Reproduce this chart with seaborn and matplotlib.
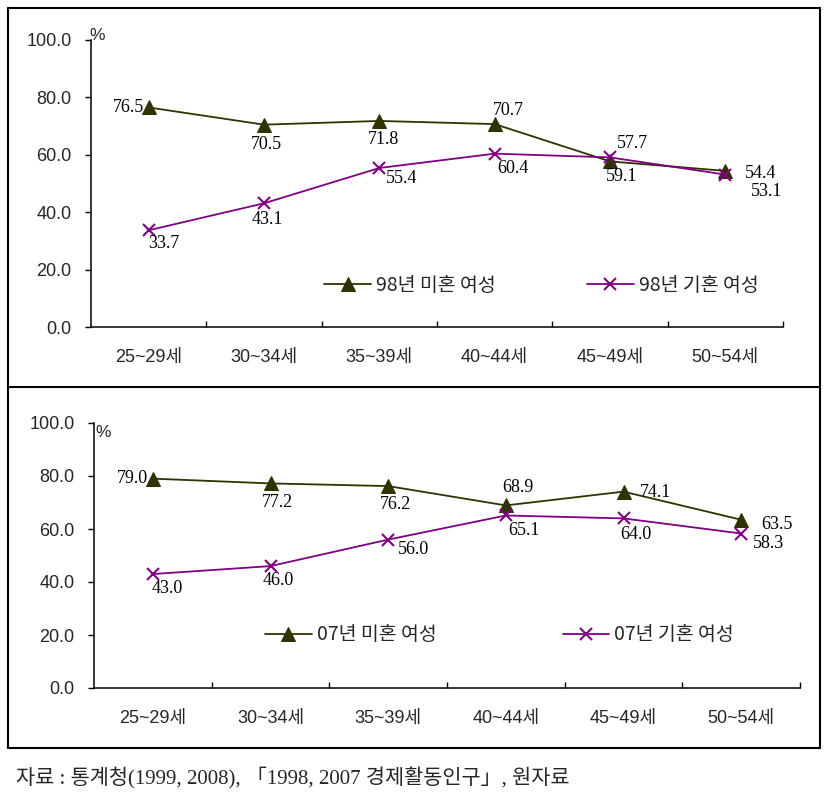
import pandas as pd
import matplotlib
matplotlib.use('Agg')
import matplotlib.pyplot as plt
from matplotlib.lines import Line2D
import seaborn as sns

# age groups on the x axis
ages = ['25~29세', '30~34세', '35~39세', '40~44세', '45~49세', '50~54세']

# participation rate (%), 1998
single_98 = [76.5, 70.5, 71.8, 70.7, 57.7, 54.4]
married_98 = [33.7, 43.1, 55.4, 60.4, 59.1, 53.1]

# participation rate (%), 2007
single_07 = [79.0, 77.2, 76.2, 68.9, 74.1, 63.5]
married_07 = [43.0, 46.0, 56.0, 65.1, 64.0, 58.3]

yticks = [0, 20, 40, 60, 80, 100]
source = '자료 : 통계청(1999, 2008), 「1998, 2007 경제활동인구」, 원자료'

# label offsets in pixels (dx, dy), picked by eye so labels don't collide
off_s98 = [(-5, 0), (2, -20), (4, -19), (14, 14), (22, 18), (35, -3)]
off_m98 = [(15, -13), (3, -16), (22, -10), (18, -15), (12, -19), (41, -17)]
off_s07 = [(-5, 0), (7, -19), (7, -18), (12, 18), (32, -1), (36, -5)]
off_m07 = [(14, -14), (8, -14), (25, -10), (18, -15), (12, -16), (27, -10)]

OLIVE = '#2e3300'
PURPLE = '#800080'

sns.set_style('white')
plt.rcParams['font.family'] = ['Liberation Sans', 'Noto Sans CJK KR']

fig = plt.figure(figsize=(8.27, 7.97), dpi=100)
W, H = 827, 797


def px_box(x0, y0, x1, y1):
    # pixel box (top-left origin) -> figure fraction rect
    return [x0 / W, 1 - y1 / H, (x1 - x0) / W, (y1 - y0) / H]


def draw_panel(ax, single, married, lab_s, lab_m, offs_s, offs_m, leg_anchor, colspace, pct_off):
    df = pd.DataFrame({'age': ages, 'single': single, 'married': married})
    sns.lineplot(data=df, x='age', y='single', ax=ax, color=OLIVE, lw=1.3,
                 marker='^', markersize=10, markeredgecolor=OLIVE, label=lab_s, sort=False)
    sns.lineplot(data=df, x='age', y='married', ax=ax, color=PURPLE, lw=1.3,
                 marker='x', markersize=9, markeredgewidth=1.5, markeredgecolor=PURPLE,
                 label=lab_m, sort=False)

    for i, v in enumerate(single):
        dx, dy = offs_s[i]
        ha = 'right' if dx < 0 else 'center'
        ax.annotate(f'{v:.1f}', (i, v), xytext=(dx, dy), textcoords='offset pixels',
                    ha=ha, va='center', fontsize=13, family='Liberation Serif', color='black')
    for i, v in enumerate(married):
        dx, dy = offs_m[i]
        ax.annotate(f'{v:.1f}', (i, v), xytext=(dx, dy), textcoords='offset pixels',
                    ha='center', va='center', fontsize=13, family='Liberation Serif', color='black')

    ax.set_xlim(-0.5, 5.5)
    ax.set_ylim(0, 100)
    ax.set_yticks(yticks)
    ax.set_yticklabels([f'{t:.1f}' for t in yticks])
    ax.set_xlabel('')
    ax.set_ylabel('')
    ax.set_xticks(range(len(ages)))
    ax.set_xticks([i + 0.5 for i in range(len(ages))], minor=True)
    ax.tick_params(axis='x', which='major', length=0, pad=16, labelsize=13)
    ax.tick_params(axis='x', which='minor', direction='in', length=4.5, width=1, color='black', bottom=True)
    ax.tick_params(axis='y', which='major', direction='out', length=4, width=1, color='black',
                   pad=10, labelsize=13, left=True)
    sns.despine(ax=ax)
    for s in ('left', 'bottom'):
        ax.spines[s].set_color('black')
        ax.spines[s].set_linewidth(1.1)

    ax.annotate('%', (0, 1), xytext=pct_off, textcoords='offset pixels',
                xycoords='axes fraction', ha='left', va='center', fontsize=12.5)

    ax.legend(loc='center left', bbox_to_anchor=leg_anchor, ncol=2, frameon=False,
              borderaxespad=0, borderpad=0, handlelength=2.4, handletextpad=0.26,
              columnspacing=colspace, prop={'family': 'Noto Sans CJK KR', 'size': 14})


ax1 = fig.add_axes(px_box(91, 40, 783, 327))
ax2 = fig.add_axes(px_box(94, 423, 800, 688))

draw_panel(ax1, single_98, married_98, '98년 미혼 여성', '98년 기혼 여성',
           off_s98, off_m98, (0.337, 0.146), 4.7, (-2, 4))
draw_panel(ax2, single_07, married_07, '07년 미혼 여성', '07년 기혼 여성',
           off_s07, off_m07, (0.242, 0.2), 6.5, (1, -10))

# outer frame and divider
lw = 1.5
for (x0, y0, x1, y1) in [(8, 8, 820, 8), (8, 748, 820, 748), (8, 8, 8, 748),
                         (820, 8, 820, 748), (8, 387, 820, 387)]:
    fig.add_artist(Line2D([x0 / W, x1 / W], [1 - y0 / H, 1 - y1 / H], color='black', lw=lw))

fig.text(16 / W, 1 - 778 / H, source, ha='left', va='center', fontsize=15,
         family=['Liberation Serif', 'Noto Sans CJK KR'])

fig.savefig('out.png', dpi=100)
